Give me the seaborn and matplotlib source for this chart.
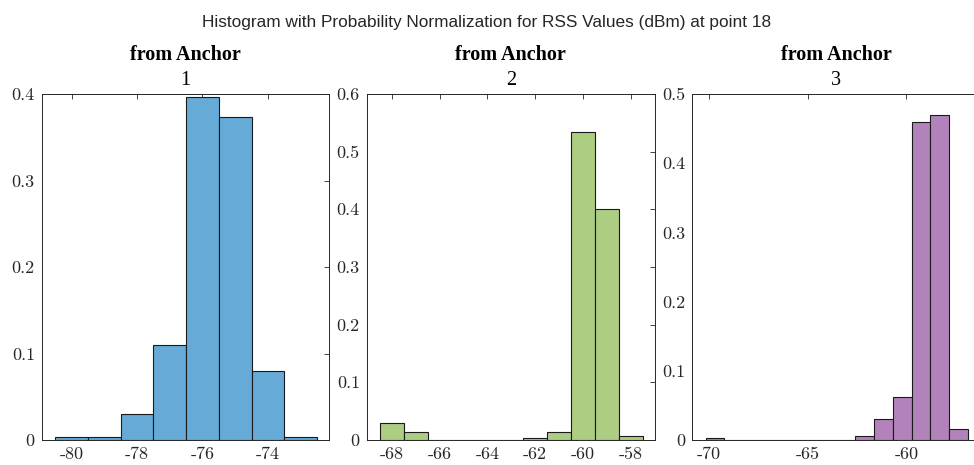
import numpy as np
import pandas as pd
import matplotlib
matplotlib.use("Agg")
import matplotlib.pyplot as plt
import seaborn as sns

# Probability per bin for each anchor (RSS in dBm, point 18)
anchor_ids = ["1", "2", "3"]

a1_start, a1_width = -80.5, 1.0
a1_prob = [0.0033, 0.0033, 0.030, 0.110, 0.3967, 0.3733, 0.080, 0.0033]

a2_start, a2_width = -68.5, 1.0
a2_prob = [0.030, 0.0133, 0.0, 0.0, 0.0, 0.0, 0.0033, 0.0133, 0.5333, 0.400, 0.0067]

a3_start, a3_width = -70.18, 0.949
a3_prob = [0.0033, 0.0, 0.0, 0.0, 0.0, 0.0, 0.0, 0.0, 0.0055, 0.030, 0.062, 0.459, 0.470, 0.0155]

x_ticks = [[-80, -78, -76, -74], [-68, -66, -64, -62, -60, -58], [-70, -65, -60]]
y_ticks = [[0, 0.1, 0.2, 0.3, 0.4], [0, 0.1, 0.2, 0.3, 0.4, 0.5, 0.6], [0, 0.1, 0.2, 0.3, 0.4, 0.5]]
x_limits = [(-80.92, -72.12), (-69.05, -56.98), (-70.86, -56.27)]
y_limits = [(0, 0.4), (0, 0.6), (0, 0.5)]
face_colors = ["#66AAD7", "#ADCD83", "#B282BB"]

suptitle = "Histogram with Probability Normalization for RSS Values (dBm) at point 18"

sns.set_style("white")
plt.rcParams["axes.unicode_minus"] = False
plt.rcParams["font.family"] = ["DejaVu Sans"]

W, H = 974, 465
fig = plt.figure(figsize=(W / 100, H / 100), dpi=100)

# axes boxes in pixels: left, right, top, bottom
boxes = [(41.7, 329.3, 94, 440), (366.7, 655.0, 94, 440), (692.3, 980.0, 94, 440)]

series = [(a1_start, a1_width, a1_prob), (a2_start, a2_width, a2_prob), (a3_start, a3_width, a3_prob)]
axis_col = "#262626"

for i, ((l, r, t, b), (start, width, prob)) in enumerate(zip(boxes, series)):
    ax = fig.add_axes([l / W, 1 - b / H, (r - l) / W, (b - t) / H])
    edges = [float(start + width * k) for k in range(len(prob) + 1)]
    centers = [e + width / 2 for e in edges[:-1]]
    df = pd.DataFrame({"rss": centers, "p": prob})
    sns.histplot(data=df, x="rss", weights="p", bins=edges, stat="count",
                 color=face_colors[i], alpha=1.0, edgecolor="#1a1a1a",
                 linewidth=0.8, ax=ax)
    ax.set_xlim(*x_limits[i])
    ax.set_ylim(*y_limits[i])
    ax.set_xticks(x_ticks[i])
    ax.set_yticks(y_ticks[i])
    ax.set_xticklabels([f"{v:g}" for v in x_ticks[i]], fontfamily="cmr10", fontsize=13)
    ax.set_yticklabels([f"{v:g}" for v in y_ticks[i]], fontfamily="cmr10", fontsize=13)
    ax.set_xlabel("")
    ax.set_ylabel("")
    ax.tick_params(direction="in", top=True, right=True, length=3.5, width=0.6,
                   color=axis_col, labelcolor=axis_col, pad=5)
    for sp in ax.spines.values():
        sp.set_visible(True)
        sp.set_color(axis_col)
        sp.set_linewidth(0.7)
    cx = (l + r) / 2
    fig.text(cx / W, 1 - 55 / H, "from Anchor", ha="center", va="center",
             fontfamily="Liberation Serif", fontweight="bold", fontsize=14.5, color="black")
    fig.text(cx / W, 1 - 80 / H, anchor_ids[i], ha="center", va="center",
             fontfamily="Liberation Serif", fontsize=14.5, color="black")

fig.text(487 / W, 1 - 22 / H, suptitle, ha="center", va="center",
         fontfamily="Liberation Sans", fontsize=12.4, color="#262626")

fig.savefig("out.png", dpi=100)
